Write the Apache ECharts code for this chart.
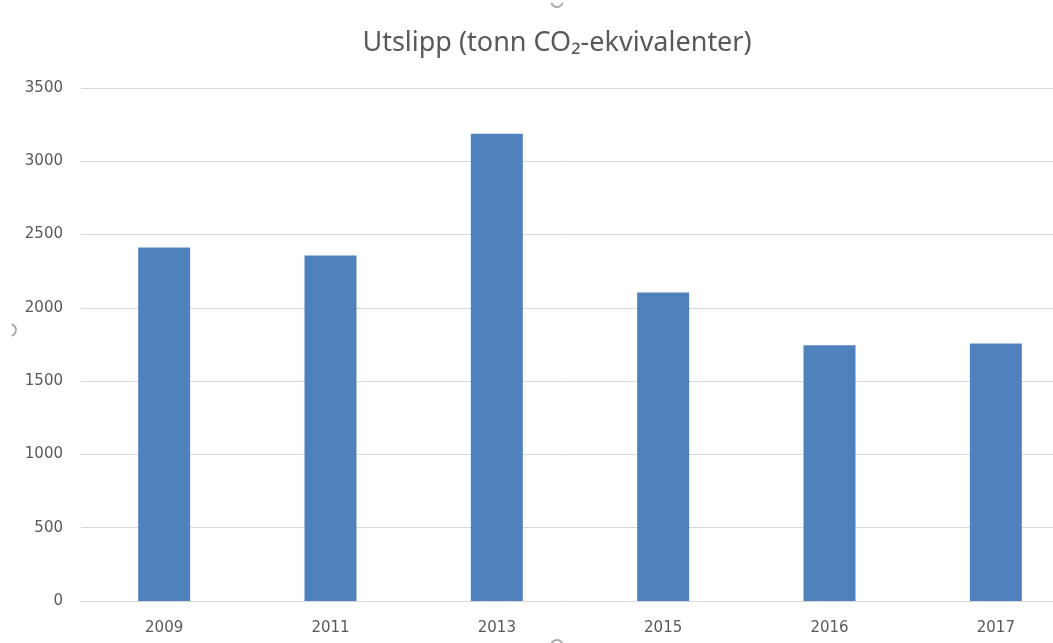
<!DOCTYPE html>
<html>
<head>
<meta charset="utf-8">
<script src="https://cdn.jsdelivr.net/npm/echarts@6/dist/echarts.min.js"></script>
<style>html,body{margin:0;padding:0;background:#fff}#c{width:1053px;height:643px}</style>
</head>
<body>
<div id="c"></div>
<script>
const categories = ['2009', '2011', '2013', '2015', '2016', '2017'];
const emissions = [2412, 2358, 3188, 2104, 1745, 1756];
const yTicks = [0, 500, 1000, 1500, 2000, 2500, 3000, 3500];
const titleText = 'Utslipp (tonn CO₂-ekvivalenter)';

const chart = echarts.init(document.getElementById('c'), null, {renderer: 'canvas'});
const font = "'Noto Sans', 'Open Sans', sans-serif";
const labelFont = "'DejaVu Sans', sans-serif";
chart.setOption({
  animation: false,
  backgroundColor: '#ffffff',
  title: {
    text: titleText,
    left: 552, top: 25, textAlign: 'center',
    textStyle: {fontFamily: font, fontSize: 27, fontWeight: 'normal', color: '#595959'}
  },
  grid: {left: 81, top: 88, width: 998, height: 513, outerBoundsMode: 'none', containLabel: false},
  xAxis: {
    type: 'category', data: categories,
    axisLine: {lineStyle: {color: '#d9d9d9', width: 1}},
    axisTick: {show: false},
    axisLabel: {fontFamily: labelFont, fontSize: 15, color: '#595959', margin: 20}
  },
  yAxis: {
    type: 'value', min: yTicks[0], max: yTicks[yTicks.length - 1], interval: 500,
    axisLine: {show: false}, axisTick: {show: false},
    splitLine: {lineStyle: {color: '#d9d9d9', width: 1}},
    axisLabel: {fontFamily: labelFont, fontSize: 15, color: '#595959', margin: 18,
      formatter: function (v) { return String(v); }}
  },
  series: [{
    type: 'bar', data: emissions, barWidth: 52,
    itemStyle: {color: '#4f81bd'}
  }],
  graphic: [
    {type: 'arc', shape: {cx: 557, cy: 1, r: 6, startAngle: 0.3, endAngle: Math.PI - 0.3}, style: {stroke: '#aaaaaa', lineWidth: 2, fill: null}},
    {type: 'arc', shape: {cx: 10, cy: 330, r: 6, startAngle: -Math.PI / 2 + 0.3, endAngle: Math.PI / 2 - 0.3}, style: {stroke: '#aaaaaa', lineWidth: 2, fill: null}},
    {type: 'arc', shape: {cx: 557, cy: 646, r: 6, startAngle: Math.PI + 0.3, endAngle: 2 * Math.PI - 0.3}, style: {stroke: '#aaaaaa', lineWidth: 2, fill: null}}
  ]
});
</script>
</body>
</html>
